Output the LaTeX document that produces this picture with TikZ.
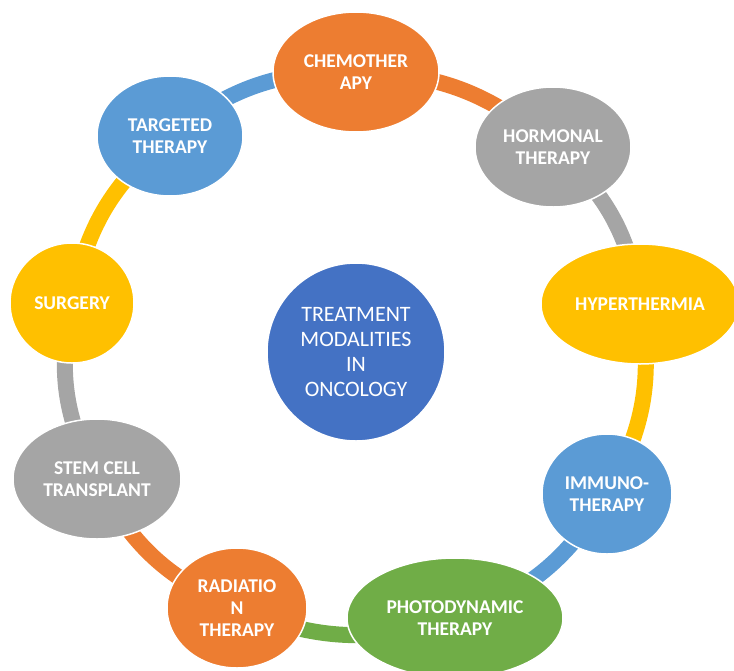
\documentclass[tikz,border=0pt]{standalone}
\usepackage{fontspec}
\setmainfont{Carlito}
\usepackage{tikz}
\usetikzlibrary{positioning,shapes.geometric,backgrounds}
\definecolor{cOrange}{HTML}{ED7D31}
\definecolor{cGray}{HTML}{A5A5A5}
\definecolor{cGold}{HTML}{FFC000}
\definecolor{cBlue}{HTML}{5B9BD5}
\definecolor{cGreen}{HTML}{70AD47}
\definecolor{cHub}{HTML}{4472C4}

\begin{document}
\begin{tikzpicture}[x=1pt, y=-1pt,
  bubble/.style={ellipse, draw=white, line width=1.5pt, inner sep=0pt, align=center, text=white, font=\fontsize{19.5}{22}\selectfont\bfseries, minimum height=120},
  hub/.style={circle, fill=cHub, draw=white, line width=1.5pt, minimum size=178, inner sep=0pt, align=center, text=white, font=\fontsize{22}{25}\selectfont},
  link/.style={line width=16pt}]
\useasboundingbox (0,0) rectangle (734,670);
\clip (0,0) rectangle (734,670);
\node[hub] (hub) at (356,352) {TREATMENT\\ MODALITIES\\ IN\\ ONCOLOGY};
\node[bubble, fill=cOrange, minimum width=166] (chemo)  at (356,72)  {CHEMOTHER\\ APY};
\node[bubble, fill=cGray,   minimum width=156] (hormon) at (553,147) {HORMONAL\\ THERAPY};
\node[bubble, fill=cGold,   minimum width=198] (hyper)  at (640,304) {HYPERTHERMIA};
\node[bubble, fill=cBlue,   minimum width=130] (immuno) at (607,494) {IMMUNO-\\ THERAPY};
\node[bubble, fill=cGreen,  minimum width=216] (photo)  at (455,618) {PHOTODYNAMIC\\ THERAPY};
\node[bubble, fill=cOrange, minimum width=140] (radio)  at (237,608) {RADIATIO\\ N\\ THERAPY};
\node[bubble, fill=cGray,   minimum width=168] (stem)   at (97,479)  {STEM CELL\\ TRANSPLANT};
\node[bubble, fill=cGold,   minimum width=124] (surg)   at (72,303)  {SURGERY};
\node[bubble, fill=cBlue,   minimum width=146] (target) at (170,136) {TARGETED\\ THERAPY};
\begin{scope}[on background layer]
\draw[link, cOrange] (chemo.center)  to[bend left=20] (hormon.center);
\draw[link, cGray]   (hormon.center) to[bend left=20] (hyper.center);
\draw[link, cGold]   (hyper.center)  to[bend left=20] (immuno.center);
\draw[link, cBlue]   (immuno.center) to[bend left=20] (photo.center);
\draw[link, cGreen]  (photo.center)  to[bend left=20] (radio.center);
\draw[link, cOrange] (radio.center)  to[bend left=20] (stem.center);
\draw[link, cGray]   (stem.center)   to[bend left=20] (surg.center);
\draw[link, cGold]   (surg.center)   to[bend left=20] (target.center);
\draw[link, cBlue]   (target.center) to[bend left=20] (chemo.center);
\end{scope}
\end{tikzpicture}
\end{document}
